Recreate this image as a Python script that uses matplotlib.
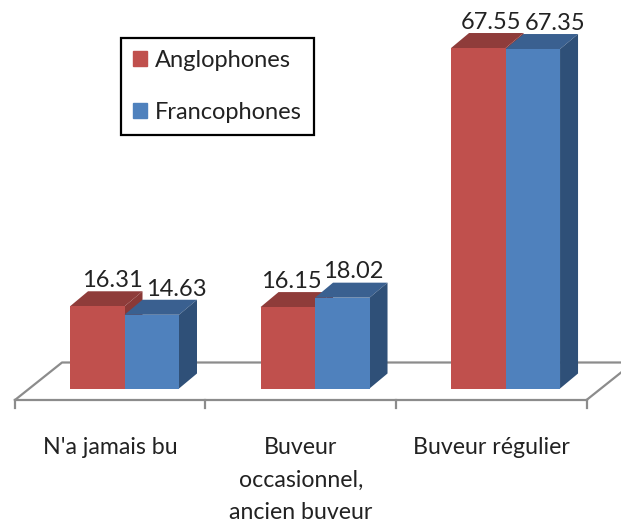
import matplotlib
matplotlib.use('Agg')
import matplotlib.pyplot as plt
from matplotlib.patches import Patch
import numpy as np

categories = ["N'a jamais bu", "Buveur\noccasionnel,\nancien buveur", "Buveur régulier"]
anglophones = [16.31, 16.15, 67.55]
francophones = [14.63, 18.02, 67.35]

plt.rcParams['font.family'] = ['Lato', 'DejaVu Sans']

fig = plt.figure(figsize=(6.21, 5.25), dpi=100)
ax = fig.add_axes([0, 0, 1, 1])
ax.set_xlim(-0.6535, 2.606)
ax.set_ylim(-27.08, 77.08)
ax.axis('off')

width = 0.286
dx = 0.0945
dy = 2.98
x = np.arange(3)

# floor of the 3d chart
grey = '#8c8c8c'
fx = -0.575
fy = -2.28
bx = 0.247
by = 7.44
ax.plot([fx, fx + 3], [fy, fy], color=grey, lw=1.6, zorder=1)
ax.plot([fx, fx + bx, 2.7], [fy, fy + by, fy + by], color=grey, lw=1.6, zorder=1)
ax.plot([fx + 3, fx + 3 + bx], [fy, fy + by], color=grey, lw=1.6, zorder=1)
for i in range(4):
    ax.plot([fx + i, fx + i], [fy, fy - 1.6], color=grey, lw=1.6, zorder=1)


def bar3d(left, v, front, top, side, z):
    ax.bar(left, v, width, align='edge', color=front, zorder=z + 0.2)
    r = left + width
    ax.fill([left, left + dx, r + dx, r], [v, v + dy, v + dy, v], color=top, lw=0, zorder=z)
    ax.fill([r, r + dx, r + dx, r], [0, dy, v + dy, v], color=side, lw=0, zorder=z)


for i in x:
    bar3d(i - width, anglophones[i], '#c0504d', '#8f3c3a', '#8a3937', 2 + i)
    bar3d(i, francophones[i], '#4f81bd', '#3a6090', '#2f5078', 2.5 + i)

# value labels sit a bit to the right, excel style
red_off = [15, 4, 13]
blue_off = [25, 11, 22]
for i in x:
    ax.annotate(f'{anglophones[i]:.2f}', (i - width / 2, anglophones[i] + dy), xytext=(red_off[i] * 0.72, 3),
                textcoords='offset points', ha='center', va='baseline', fontsize=17, color='#222222', zorder=9)
    ax.annotate(f'{francophones[i]:.2f}', (i + width / 2, francophones[i] + dy), xytext=(blue_off[i] * 0.72, 3),
                textcoords='offset points', ha='center', va='baseline', fontsize=17, color='#222222', zorder=9)

for i, c in enumerate(categories):
    ax.text(fx + i + 0.5, -9.7, c, ha='center', va='top', fontsize=16.7, color='#222222', linespacing=1.66)

handles = [Patch(color='#c0504d', label='Anglophones'), Patch(color='#4f81bd', label='Francophones')]
leg = ax.legend(handles=handles, loc='upper left', bbox_to_anchor=(121 / 621, 1 - 38 / 525), fontsize=17,
                fancybox=False, framealpha=1, edgecolor='black', handlelength=0.6, handleheight=0.6,
                labelspacing=1.3, borderpad=0.52, handletextpad=0.3, borderaxespad=0, labelcolor='#222222')
leg.get_frame().set_linewidth(1.6)
leg.set_zorder(10)

plt.savefig('out.png', dpi=100)
